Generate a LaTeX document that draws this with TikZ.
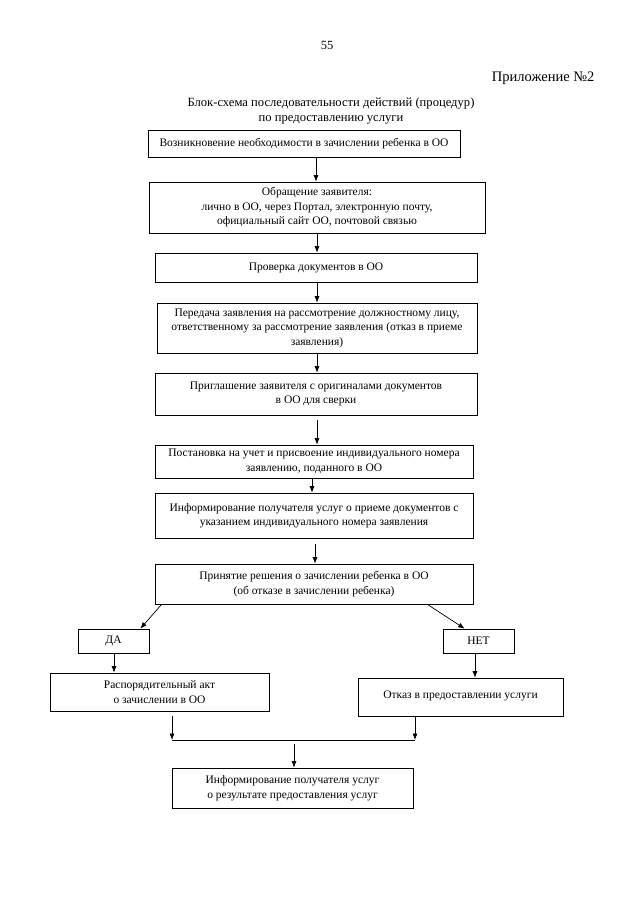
\documentclass[tikz,border=0pt]{standalone}
\usepackage{fontspec}
\setmainfont{Liberation Serif}
\usetikzlibrary{arrows.meta,calc}
\begin{document}
\begin{tikzpicture}[x=1pt,y=-1pt,
  box/.style={draw=black,line width=0.7pt,inner sep=0pt,align=center,
    font=\fontsize{11.5}{14.5}\selectfont},
  arr/.style={-{Latex[length=6.5pt,width=5pt]},line width=0.7pt},
  ln/.style={line width=0.7pt}]
\useasboundingbox (0,0) rectangle (640,905);
\newcommand{\bx}[6]{\node[box,minimum width={#4-#2},minimum height={#5-#3}] (#1) at ({(#2+#4)/2},{(#3+#5)/2}) {#6};}
\node[font=\fontsize{12.5}{14}\selectfont] (pg) at (327,45) {55};
\node[font=\fontsize{14.5}{16}\selectfont,anchor=east] (app) at (598,78) {Приложение №2};
\node[font=\fontsize{12.6}{14.5}\selectfont,align=center] (title) at (331,111) {Блок-схема последовательности действий (процедур)\\по предоставлению услуги};
\bx{b1}{148}{130}{460}{157}{Возникновение необходимости в зачислении ребенка в ОО}
\bx{b2}{149}{182}{485}{233}{Обращение заявителя:\\лично в ОО, через Портал, электронную почту,\\официальный сайт ОО, почтовой связью}
\bx{b3}{155}{253}{477}{282}{Проверка документов в ОО}
\bx{b4}{157}{303}{477}{353}{Передача заявления на рассмотрение должностному лицу,\\ответственному за рассмотрение заявления (отказ в приеме\\заявления)}
\bx{b5}{155}{373}{477}{415}{Приглашение заявителя с оригиналами документов\\в ОО для сверки}
\bx{b6}{155}{445}{473}{478}{Постановка на учет и присвоение индивидуального номера\\заявлению, поданного в ОО}
\bx{b7}{155}{493}{473}{538}{Информирование получателя услуг о приеме документов с\\указанием индивидуального номера заявления}
\bx{b8}{155}{564}{473}{604}{Принятие решения о зачислении ребенка в ОО\\(об отказе в зачислении ребенка)}
\bx{da}{78}{629}{149}{653}{ДА}
\bx{net}{443}{629}{514}{653}{НЕТ}
\bx{ra}{50}{673}{269}{711}{Распорядительный акт\\о зачислении в ОО}
\bx{otk}{358}{678}{563}{716}{\raisebox{5pt}{Отказ в предоставлении услуги}}
\bx{fin}{172}{768}{413}{808}{Информирование получателя услуг\\о результате предоставления услуг}
% columns
\coordinate (c1) at (316,0);
\coordinate (c2) at (317,0);
\coordinate (c3) at (312,0);
\coordinate (c4) at (315,0);
\draw[arr] (b1.south -| c1) -- (b2.north -| c1);
\draw[arr] (b2.south -| c2) -- (b3.north -| c2);
\draw[arr] (b3.south -| c2) -- (b4.north -| c2);
\draw[arr] (b4.south -| c2) -- (b5.north -| c2);
\draw[arr] ($(b5.south -| c2)+(0,5)$) -- (b6.north -| c2);
\draw[arr] (b6.south -| c3) -- (b7.north -| c3);
\draw[arr] ($(b7.south -| c4)+(0,6)$) -- (b8.north -| c4);
% branches
\draw[arr] ($(b8.south west)+(7,0)$) -- ($(da.north east)+(-9,0)$);
\draw[arr] ($(b8.south east)+(-46,0)$) -- ($(net.north west)+(22,0)$);
\coordinate (cda) at (114,0);
\coordinate (cnet) at (475,0);
\draw[arr] (da.south -| cda) -- (ra.north -| cda);
\draw[arr] (net.south -| cnet) -- (otk.north -| cnet);
% merge
\coordinate (mL) at (172,740);
\coordinate (mR) at (415,740);
\coordinate (mM) at (294,744);
\draw[ln] (mL) -- (mR);
\draw[arr] ($(ra.south -| mL)+(0,5)$) -- (mL);
\draw[arr] (otk.south -| mR) -- (mR);
\draw[arr] (mM) -- (fin.north -| mM);
\end{tikzpicture}
\end{document}
